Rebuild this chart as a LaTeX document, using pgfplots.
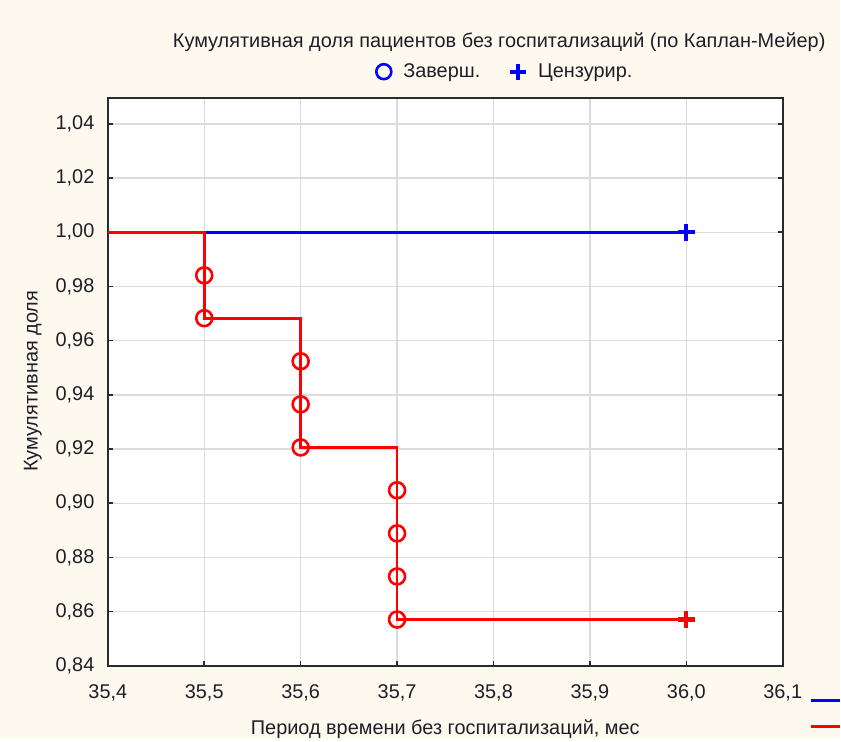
\documentclass[border=0pt]{standalone}
\usepackage{fontspec}
\setmainfont{Liberation Sans}
\usepackage{pgfplots}
\pgfplotsset{compat=1.18}
\definecolor{bgcream}{HTML}{FEF9EE}
\definecolor{gridgray}{HTML}{DCDCDC}
\definecolor{axisdark}{HTML}{2B2B2B}
\definecolor{txtdark}{HTML}{1E1E28}
\newcommand{\chartfont}{\fontsize{20}{23}\selectfont}

\begin{document}
\begin{tikzpicture}[x=1bp,y=1bp]
% page background
\fill[bgcream] (0,0) rectangle (841,740);
\begin{axis}[
  at={(108bp,73bp)}, anchor=south west,
  scale only axis, width=676bp, height=569bp,
  xmin=35.4, xmax=36.1, ymin=0.84, ymax=1.0496,
  xtick={35.4,35.5,35.6,35.7,35.8,35.9,36.0,36.1},
  ytick={0.84,0.86,0.88,0.90,0.92,0.94,0.96,0.98,1.00,1.02,1.04},
  xtick pos=left, ytick pos=both,
  tick align=inside, major tick length=5bp,
  grid=major,
  major grid style={gridgray, line width=1.4bp},
  axis line style={axisdark, line width=1.6bp},
  tick style={axisdark, line width=1.6bp},
  axis background/.style={fill=white},
  tick label style={font=\chartfont, text=txtdark},
  /pgf/number format/assume math mode=true,
  xticklabel style={yshift=-15bp, /pgf/number format/.cd, fixed, fixed zerofill, precision=1, use comma},
  yticklabel style={xshift=-10bp, /pgf/number format/.cd, fixed, fixed zerofill, precision=2, use comma},
  legend columns=2,
  legend style={at={(rel axis cs:0.589,1.046)}, anchor=center, draw=none, fill=none,
    font=\chartfont, text=txtdark, column sep=10bp, /tikz/every even column/.append style={column sep=28bp}},
  legend cell align=left,
]
% legend entries
\addlegendimage{only marks, mark=o, blue, mark size=7.5bp, mark options={line width=2.6bp}}
\addlegendentry{Заверш.}
\addlegendimage{only marks, mark=+, blue, mark size=8bp, mark options={line width=4.2bp}}
\addlegendentry{Цензурир.}

% group 1: no events
\addplot[blue, line width=2.8bp, forget plot] coordinates {(35.4,1.0) (36.0,1.0)};
\addplot[blue, only marks, mark=+, mark size=8.5bp, mark options={line width=4.2bp}, forget plot]
  coordinates {(36.0,1.0)};

% group 2: Kaplan-Meier steps
\addplot[red, line width=2.8bp, forget plot] coordinates {
  (35.4,1.0) (35.5,1.0) (35.5,0.9683) (35.6,0.9683) (35.6,0.9206)
  (35.7,0.9206) (35.7,0.8571) (36.0,0.8571)};
\addplot[red, only marks, mark=o, mark size=8bp, mark options={line width=2.6bp}, forget plot]
  coordinates {
  (35.5,0.9841) (35.5,0.9683)
  (35.6,0.9524) (35.6,0.9365) (35.6,0.9206)
  (35.7,0.9048) (35.7,0.8889) (35.7,0.8730) (35.7,0.8571)};
\addplot[red, only marks, mark=+, mark size=8.5bp, mark options={line width=4.2bp}, forget plot]
  coordinates {(36.0,0.8571)};
\end{axis}

% titles
\node[font=\chartfont, text=txtdark] at (500,698) {Кумулятивная доля пациентов без госпитализаций (по Каплан-Мейер)};
\node[font=\chartfont, text=txtdark, rotate=90] at (33,358) {Кумулятивная доля};
\node[font=\chartfont, text=txtdark] at (446,10) {Период времени без госпитализаций, мес};

% series key lines at the lower right
\draw[blue, line width=2.8bp] (812,38) -- (841,38);
\draw[red, line width=2.8bp] (812,12) -- (841,12);
\end{tikzpicture}
\end{document}
